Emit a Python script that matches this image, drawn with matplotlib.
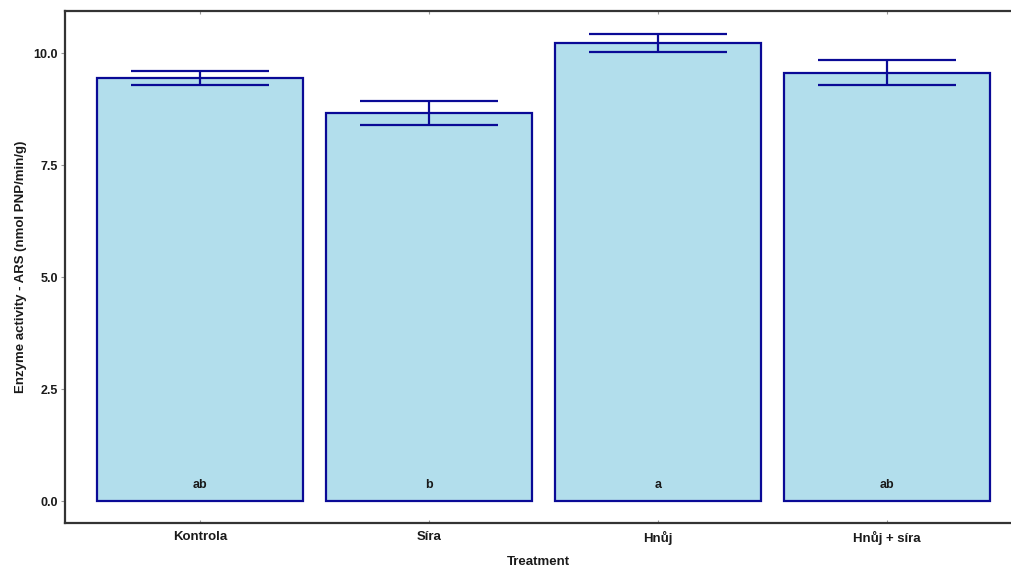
import matplotlib
matplotlib.use("Agg")
import matplotlib.pyplot as plt
import numpy as np

# Data
treatments = ["Kontrola", "Síra", "Hnůj", "Hnůj + síra"]
means = [9.44, 8.66, 10.22, 9.56]
errors = [0.16, 0.27, 0.20, 0.28]
letters = ["ab", "b", "a", "ab"]

plt.rcParams["font.family"] = ["Liberation Sans", "DejaVu Sans"]

fig = plt.figure(figsize=(10.11, 5.71), dpi=100)
ax = fig.add_axes([65 / 1011, 48 / 571, 1 - 65 / 1011, (523 - 11) / 571])

x = np.arange(1, len(treatments) + 1)
fill = "#B2DEEC"
edge = "#0A0A96"

ax.bar(x, means, width=0.9, color=fill, edgecolor=edge, linewidth=1.6, zorder=2)
ax.errorbar(x, means, yerr=errors, fmt="none", ecolor=edge, elinewidth=1.6,
            capsize=0, zorder=3)
# caps spanning 0.6 of a category
for xi, m, e in zip(x, means, errors):
    for yv in (m - e, m + e):
        ax.plot([xi - 0.3, xi + 0.3], [yv, yv], color=edge, lw=1.6,
                solid_capstyle="butt", zorder=3)

for xi, lab in zip(x, letters):
    ax.text(xi, 0.36, lab, ha="center", va="center", fontsize=9,
            fontweight="bold", color="#1a1a1a", zorder=4)

ax.set_xlim(0.41, 0.41 + (1011 - 65) / 229)
ax.set_ylim(-0.49, 10.94)
ax.set_xticks(x)
ax.set_xticklabels(treatments, fontsize=9.5, fontweight="bold", color="#1a1a1a")
ax.set_yticks([0, 2.5, 5, 7.5, 10])
ax.set_yticklabels(["0.0", "2.5", "5.0", "7.5", "10.0"], fontsize=9,
                   fontweight="bold", color="#1a1a1a")
ax.tick_params(axis="both", direction="out", length=3, width=0.8,
               color="#999999", pad=2)
ax.tick_params(axis="x", pad=6)
ax.tick_params(axis="x", top=True, direction="in", length=2)

for side in ("left", "bottom", "top"):
    ax.spines[side].set_color("#333333")
    ax.spines[side].set_linewidth(1.6)
ax.spines["right"].set_visible(False)

ax.set_xlabel("Treatment", fontsize=9.5, fontweight="bold", color="#1a1a1a",
              labelpad=8)
ax.set_ylabel("Enzyme activity - ARS (nmol PNP/min/g)", fontsize=9.5,
              fontweight="bold", color="#1a1a1a", labelpad=5)

fig.savefig("out.png", dpi=100, facecolor="white")
